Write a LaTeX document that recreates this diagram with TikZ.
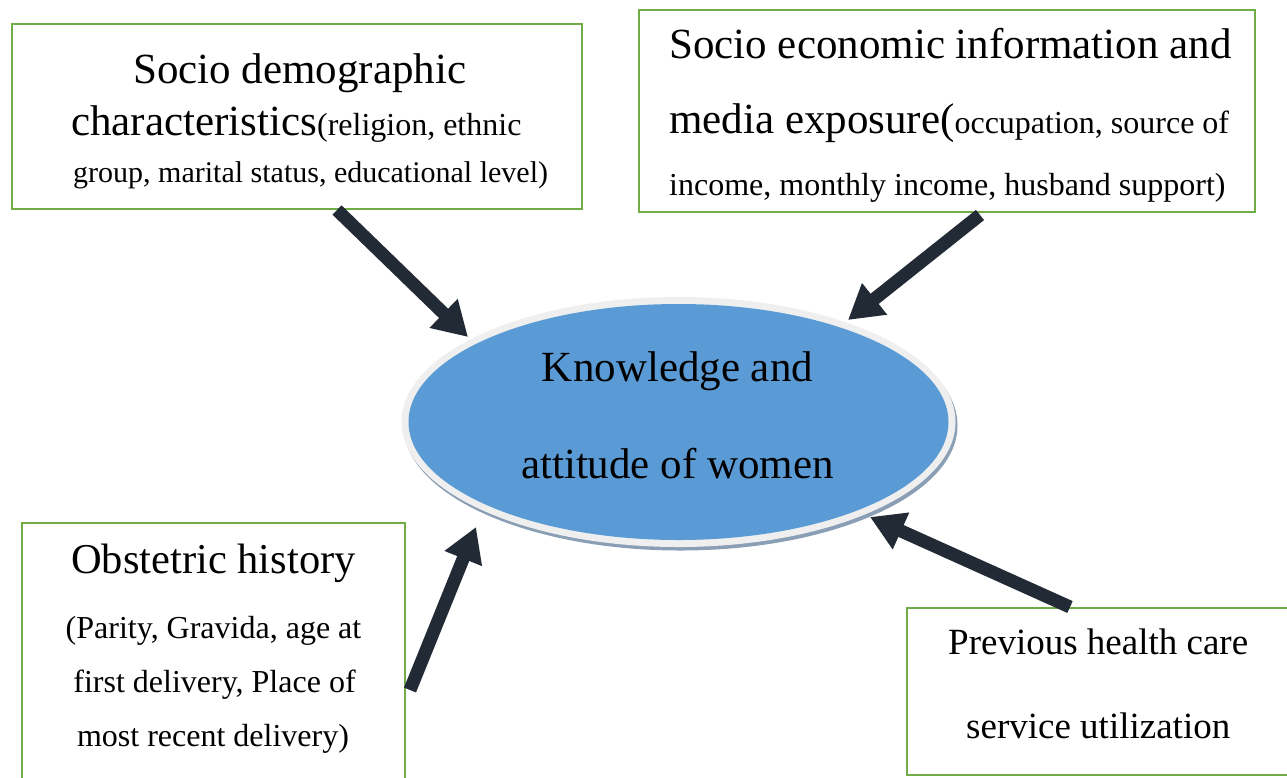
\documentclass[tikz,border=0pt]{standalone}
\usepackage{fontspec}
\setmainfont{Liberation Serif}
\usetikzlibrary{arrows.meta,shapes.geometric}
\definecolor{boxgreen}{HTML}{70AD47}
\definecolor{ellblue}{HTML}{5B9BD5}
\definecolor{rimgray}{HTML}{EFEFEF}
\definecolor{shadowgray}{HTML}{8A9EB5}
\definecolor{arrowdark}{HTML}{222A35}
\newcommand{\fbig}{\fontsize{43}{50}\selectfont}
\newcommand{\fsml}{\fontsize{32}{38}\selectfont}
\newcommand{\fsmll}{\fontsize{30}{36}\selectfont}
\newcommand{\fmid}{\fontsize{37}{44}\selectfont}
\tikzset{
  framebox/.style={draw=boxgreen, line width=2.5pt, fill=white, inner sep=0pt},
  txt/.style={inner sep=0pt, anchor=base west, text=black},
  ctxt/.style={inner sep=0pt, anchor=base, text=black},
  arr/.style={draw=arrowdark, line width=13pt, -{Triangle[length=34pt,width=38pt]}},
}
\begin{document}
\begin{tikzpicture}[x=1pt,y=-1pt]
\useasboundingbox (0,0) rectangle (1287,777);
\clip (0,0) rectangle (1287,777);
\fill[white] (0,0) rectangle (1287,777);

% boxes
\node[framebox, minimum width=570pt, minimum height=185pt] (b1) at (297,116.5) {};
\node[framebox, minimum width=616pt, minimum height=202pt] (b2) at (947,111) {};
\node[framebox, minimum width=383pt, minimum height=290pt] (b3) at (213.5,668) {};
\node[framebox, minimum width=400pt, minimum height=167pt] (b4) at (1107,691.5) {};

% ellipse
\node[ellipse, fill=shadowgray, minimum width=554pt, minimum height=250pt, inner sep=0pt] (esh) at (680.5,425.5) {};
\node[ellipse, fill=rimgray, minimum width=554pt, minimum height=250pt, inner sep=0pt] (rim) at (678.5,422) {};
\node[ellipse, fill=ellblue, minimum width=540pt, minimum height=236pt, inner sep=0pt] (ell) at (678.5,422) {};

% texts
\node[txt] (t11) at (133,83) {\fbig Socio demographic};
\node[txt] (t12) at (71,135) {\fbig characteristics\fsml(religion, ethnic};
\node[txt] (t13) at (73,182) {\fsmll group, marital status, educational level)};

\node[txt] (t21) at (669,58) {\fbig Socio economic information and};
\node[txt] (t22) at (669,133) {\fbig media exposure(\fsml occupation, source of};
\node[txt] (t23) at (669,195) {\fsml income, monthly income, husband support)};

\node[ctxt] (t31) at (213.5,573) {\fontsize{42.5}{50}\selectfont Obstetric history};
\node[ctxt] (t32) at (213.5,638) {\fsml (Parity, Gravida, age at};
\node[ctxt] (t33) at (214.5,692) {\fsml first delivery, Place of};
\node[ctxt] (t34) at (213,746) {\fsml most recent delivery)};

\node[txt] (t41) at (948,654) {\fmid Previous health care};
\node[txt] (t42) at (966,738) {\fmid service utilization};

\node[ctxt] (e1) at (677.5,381) {\fbig Knowledge and};
\node[ctxt] (e2) at (677.5,478) {\fbig attitude of women};

% arrows
\coordinate (a1s) at (337,210);
\coordinate (a1e) at (468,337);
\coordinate (a2s) at (980,215);
\coordinate (a2e) at (848,320);
\coordinate (a3s) at (410,690);
\coordinate (a3e) at (476,527);
\coordinate (a4s) at (1070,607);
\coordinate (a4e) at (870,517);
\draw[arr] (a1s) -- (a1e);
\draw[arr] (a2s) -- (a2e);
\draw[arr] (a3s) -- (a3e);
\draw[arr] (a4s) -- (a4e);
\end{tikzpicture}
\end{document}
